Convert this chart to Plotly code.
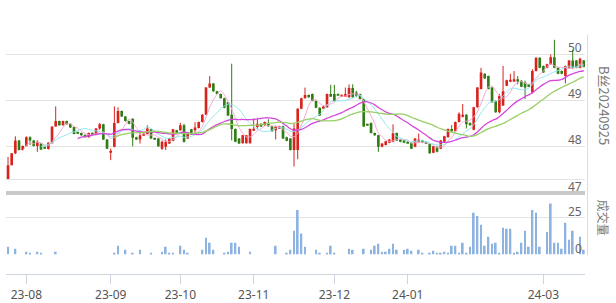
import plotly.graph_objects as go
import pandas as pd

opens = [47.25,47.60,47.86,48.14,47.93,48.02,48.21,48.14,48.02,48.07,47.98,47.95,48.08,48.44,48.56,48.47,48.56,48.50,48.43,48.30,
         48.30,48.26,48.21,48.30,48.26,48.40,48.49,48.16,47.88,48.00,48.52,48.78,48.66,48.56,48.61,48.21,48.16,48.25,48.28,48.38,
         48.18,48.18,47.96,48.00,48.07,48.13,48.36,48.36,48.47,48.18,48.38,48.36,48.41,48.54,48.70,49.29,49.38,49.21,49.15,49.06,
         48.97,48.70,48.39,48.18,48.08,48.08,48.08,48.36,48.43,48.50,48.47,48.50,48.45,48.36,48.41,48.45,48.21,48.18,47.93,47.93,
         48.83,49.06,49.13,49.15,49.00,48.85,48.85,48.86,49.15,49.15,49.14,49.11,49.11,49.08,49.28,49.18,49.15,49.04,48.49,48.52,
         48.30,48.25,48.00,48.04,48.09,48.11,48.30,48.16,48.14,48.11,48.09,48.00,48.13,48.14,48.11,48.07,47.87,48.00,47.96,48.11,
         48.21,48.39,48.34,48.54,48.66,48.70,48.52,48.37,48.86,49.26,49.59,49.54,49.29,49.00,48.75,48.90,49.33,49.42,49.44,49.47,
         49.44,49.40,49.36,49.18,49.65,49.94,49.76,49.72,49.80,49.95,49.72,49.65,49.54,49.72,49.88,49.88,49.72,49.88]
highs = [47.78,47.86,48.23,48.15,48.03,48.23,48.23,48.15,48.14,48.08,47.99,48.10,48.44,48.88,48.57,48.57,48.57,48.51,48.44,48.31,
         48.31,48.27,48.31,48.31,48.41,48.52,48.50,48.17,47.96,48.88,48.86,48.79,48.67,48.57,48.62,48.22,48.36,48.30,48.47,48.39,
         48.19,48.19,48.14,48.16,48.19,48.39,48.37,48.52,48.50,48.30,48.39,48.54,48.55,48.71,49.30,49.54,49.39,49.22,49.16,49.07,
         48.98,49.81,48.40,48.19,48.26,48.26,48.40,48.62,48.62,48.51,48.55,48.60,48.46,48.46,48.46,48.46,48.22,48.19,48.50,48.84,
         49.07,49.29,49.14,49.16,49.01,48.86,48.89,49.16,49.35,49.35,49.15,49.14,49.29,49.36,49.36,49.22,49.16,49.05,48.50,48.53,
         48.31,48.26,48.08,48.13,48.17,48.49,48.31,48.17,48.15,48.12,48.10,48.19,48.29,48.15,48.12,48.08,48.02,48.01,48.15,48.24,
         48.40,48.47,48.55,48.75,48.93,48.71,48.53,48.87,49.30,49.72,49.60,49.55,49.30,49.01,49.15,49.76,49.46,49.59,49.65,49.54,
         49.45,49.44,49.37,49.69,49.95,49.95,49.77,49.81,50.01,50.33,49.73,49.66,49.77,49.89,50.12,49.89,49.94,49.89]
lows = [47.24,47.60,47.84,47.92,47.92,48.01,48.04,48.01,47.89,47.93,47.96,47.94,48.07,48.44,48.46,48.46,48.48,48.41,48.27,48.28,
        48.24,48.20,48.20,48.26,48.25,48.37,48.15,47.95,47.71,47.99,48.51,48.65,48.55,48.49,48.01,48.15,48.07,48.24,48.27,48.17,
        48.16,48.00,47.93,47.93,48.06,48.12,48.31,48.35,48.09,48.17,48.26,48.29,48.40,48.53,48.69,49.28,49.20,49.14,49.05,48.84,
        48.67,48.14,48.10,48.06,48.07,48.07,48.07,48.35,48.39,48.43,48.46,48.44,48.33,48.16,48.40,48.17,48.12,47.92,47.57,47.73,
        48.82,49.05,49.07,48.99,48.84,48.67,48.84,48.85,49.10,48.99,49.12,49.10,49.10,49.07,49.07,49.08,49.03,48.43,48.47,48.29,
        48.24,47.89,47.99,48.03,48.08,48.10,48.13,48.10,48.08,48.08,47.95,47.99,48.08,48.08,48.06,47.85,47.86,47.88,47.95,48.10,
        48.20,48.33,48.33,48.53,48.64,48.40,48.46,48.36,48.85,49.25,49.48,49.25,48.96,48.74,48.73,48.89,49.32,49.41,49.43,49.36,
        49.30,49.04,49.30,49.16,49.64,49.71,49.61,49.71,49.79,49.71,49.58,49.58,49.38,49.71,49.69,49.71,49.71,49.73]
closes = [47.60,47.86,48.14,47.93,48.02,48.21,48.14,48.02,48.11,47.94,47.97,48.09,48.44,48.56,48.47,48.56,48.49,48.42,48.28,48.29,
          48.25,48.21,48.30,48.27,48.40,48.49,48.16,47.96,47.91,48.52,48.78,48.66,48.56,48.50,48.20,48.16,48.25,48.29,48.40,48.18,
          48.17,48.01,48.11,48.11,48.18,48.38,48.32,48.47,48.11,48.29,48.27,48.42,48.54,48.70,49.29,49.38,49.21,49.15,49.06,48.85,
          48.68,48.39,48.11,48.07,48.25,48.25,48.39,48.39,48.50,48.44,48.54,48.45,48.34,48.45,48.45,48.18,48.13,47.93,48.40,48.83,
          49.06,49.13,49.08,49.00,48.85,48.68,48.88,49.15,49.11,49.00,49.13,49.13,49.15,49.28,49.08,49.11,49.04,48.44,48.48,48.30,
          48.25,48.00,48.07,48.12,48.16,48.30,48.14,48.11,48.09,48.09,47.96,48.18,48.15,48.09,48.07,47.86,48.01,47.89,48.14,48.23,
          48.39,48.34,48.54,48.72,48.70,48.49,48.47,48.86,49.29,49.62,49.49,49.26,48.97,48.75,49.11,49.21,49.45,49.45,49.47,49.42,
          49.31,49.29,49.31,49.65,49.94,49.72,49.62,49.80,49.95,49.72,49.59,49.59,49.76,49.88,49.72,49.72,49.92,49.74]

vol_idx = [0,2,5,6,8,9,13,29,30,32,34,36,39,42,43,44,45,47,48,49,53,54,55,56,59,60,61,62,63,66,73,76,77,78,79,80,81,84,85,87,88,89,
           93,94,97,99,100,101,102,103,104,105,106,108,109,110,112,113,115,116,117,118,119,120,121,122,123,124,125,126,127,128,129,
           130,131,132,133,134,135,136,137,138,139,140,141,142,143,144,145,147,148,149,150,151,152,153,154,156,157]
vol_val = [5.2,3.9,1.8,1.1,1.8,1.1,1.8,1.1,5.9,3.2,1.1,3.2,1.1,1.8,5.2,1.1,1.1,5.9,3.2,1.1,3.2,11.4,8.0,3.2,1.1,1.8,8.0,8.0,5.2,1.8,
           5.9,1.1,3.2,16.1,30.4,14.3,5.2,3.2,1.1,1.1,5.9,1.1,3.9,3.2,3.9,3.2,5.9,7.3,1.8,1.8,3.9,7.3,3.2,3.2,3.9,2.5,3.2,1.1,1.1,2.5,
           1.1,1.1,1.8,1.1,5.9,5.9,1.1,8.0,1.1,5.2,28.4,26.3,20.2,5.9,12.0,7.3,8.0,1.1,18.2,17.5,17.5,1.1,1.8,8.0,16.1,5.2,30.4,28.4,
           5.2,15.4,34.7,8.0,8.0,3.9,21.6,10.0,16.1,12.0,3.2]

tick_idx = [5, 28, 47, 67, 89, 109, 146]
tick_labels = ["23-08", "23-09", "23-10", "23-11", "23-12", "24-01", "24-03"]
price_ticks = [50, 49, 48]
vol_ticks = [25, 0]

n = len(closes)
idx = list(range(n))
volumes = [0.0] * n
for i, v in zip(vol_idx, vol_val):
    volumes[i] = v

RED = "#d9231d"
GREEN = "#2f7d14"
W, H = 616, 303

def px_x(p):
    return p / W

def px_y(p):
    return 1 - p / H

fig = go.Figure()

# wicks
for col, up in ((RED, True), (GREEN, False)):
    xs, ys = [], []
    for i in idx:
        if (closes[i] >= opens[i]) == up:
            xs += [i, i, None]
            ys += [lows[i], highs[i], None]
    fig.add_trace(go.Scatter(x=xs, y=ys, mode="lines", line=dict(color=col, width=1),
                             hoverinfo="skip", showlegend=False, xaxis="x", yaxis="y"))

# bodies
base = [min(o, c) for o, c in zip(opens, closes)]
hgt = [max(abs(c - o), 0.022) for o, c in zip(opens, closes)]
cols = [RED if c >= o else GREEN for o, c in zip(opens, closes)]
fig.add_trace(go.Bar(x=idx, y=hgt, base=base, width=0.72, marker=dict(color=cols, line=dict(width=0)),
                     showlegend=False, xaxis="x", yaxis="y"))

# moving averages
cs = pd.Series(closes)
ma_cfg = [(5, "#f3a9d0", 1), (10, "#8ee6f0", 1), (20, "#d548dd", 1.3), (30, "#98cf66", 1.3)]
for win, col, lw in ma_cfg:
    ma = cs.rolling(win).mean()
    fig.add_trace(go.Scatter(x=idx, y=ma, mode="lines", line=dict(color=col, width=lw, shape="spline", smoothing=0.6),
                             hoverinfo="skip", showlegend=False, xaxis="x", yaxis="y"))

# volume
fig.add_trace(go.Bar(x=idx, y=volumes, width=0.5, marker=dict(color="#8db3e0", line=dict(width=0)),
                     showlegend=False, xaxis="x2", yaxis="y2"))

GRID = "#e3e3e3"
xr = [-0.55, 157.35]
xdom = [px_x(6), px_x(585)]

annotations = []
for t in price_ticks:
    annotations.append(dict(x=px_x(584), xref="paper", y=t, yref="y", text=str(t), showarrow=False,
                            xanchor="right", yanchor="middle", yshift=7,
                            font=dict(family="Noto Sans", size=12, color="#666")))
annotations.append(dict(x=px_x(584), xref="paper", y=47.295, yref="y", text="47", showarrow=False,
                        xanchor="right", yanchor="middle", yshift=-7,
                        font=dict(family="Noto Sans", size=12, color="#666")))
for t in vol_ticks:
    annotations.append(dict(x=px_x(584), xref="paper", y=t, yref="y2", text=str(t), showarrow=False,
                            xanchor="right", yanchor="middle", yshift=6,
                            font=dict(family="Noto Sans", size=12, color="#666")))
annotations.append(dict(x=px_x(604), xref="paper", y=px_y(106), yref="paper", text="B丝20240925", showarrow=False,
                        textangle=90, xanchor="center", yanchor="middle",
                        font=dict(family="Noto Sans CJK SC", size=13, color="#777")))
annotations.append(dict(x=px_x(603), xref="paper", y=px_y(220), yref="paper", text="成交量", showarrow=False,
                        textangle=90, xanchor="center", yanchor="middle",
                        font=dict(family="Noto Sans CJK SC", size=12, color="#777")))

shapes = [
    dict(type="rect", xref="paper", yref="paper", x0=px_x(6), x1=px_x(585), y0=px_y(197), y1=px_y(193),
         fillcolor="#c9c9c9", line=dict(width=0), layer="above"),
    dict(type="line", xref="paper", yref="paper", x0=px_x(587.5), x1=px_x(587.5), y0=px_y(35), y1=px_y(258),
         line=dict(color="#dcdcdc", width=1)),
]

fig.update_layout(
    width=W, height=H, margin=dict(l=0, r=0, t=0, b=0),
    paper_bgcolor="white", plot_bgcolor="white",
    barmode="overlay", showlegend=False,
    xaxis=dict(domain=xdom, range=xr, anchor="y", showgrid=False, zeroline=False, showticklabels=False,
               showline=True, linecolor=GRID, linewidth=1, ticks=""),
    yaxis=dict(domain=[px_y(181), px_y(35)], range=[47.295, 50.442], tickvals=price_ticks, showticklabels=False,
               showgrid=True, gridcolor=GRID, gridwidth=1, zeroline=False, ticks=""),
    xaxis2=dict(domain=xdom, range=xr, anchor="free", position=px_y(277), overlaying=None,
                tickvals=tick_idx, ticktext=tick_labels, showgrid=False, zeroline=False,
                showline=True, linecolor="#cdd5e3", linewidth=1, ticks="outside", ticklen=9,
                tickcolor="#cdd5e3", tickfont=dict(family="Noto Sans", size=12, color="#555")),
    yaxis2=dict(domain=[px_y(257), px_y(200)], range=[0, 38.5], tickvals=vol_ticks, showticklabels=False,
                showgrid=True, gridcolor=GRID, gridwidth=1, zeroline=False, ticks="", anchor="x2"),
    annotations=annotations, shapes=shapes,
)

fig.write_html("out.html")
